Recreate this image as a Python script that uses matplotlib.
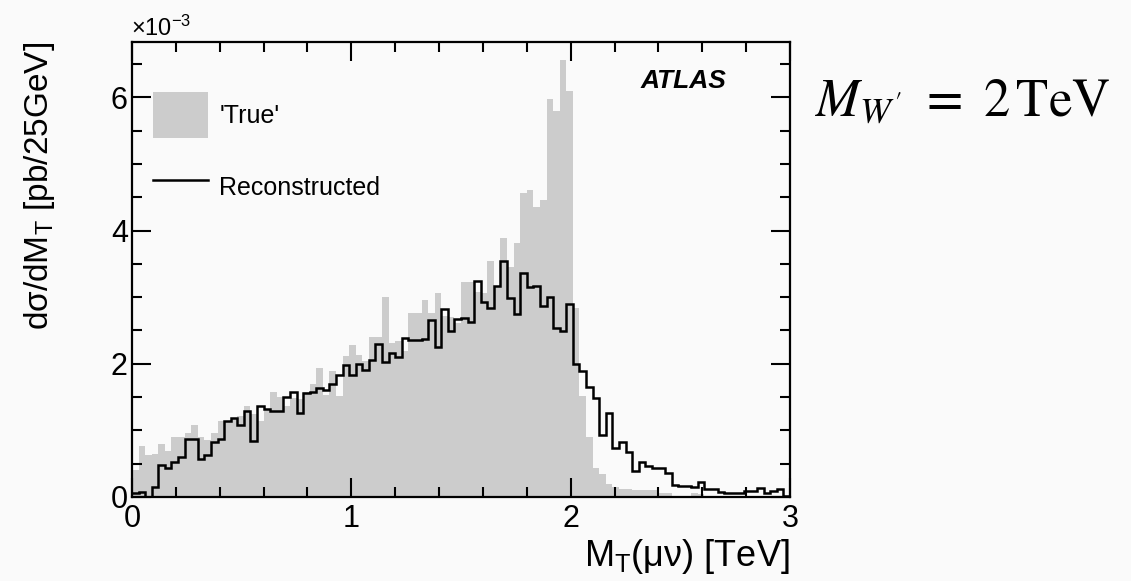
import numpy as np
import matplotlib
matplotlib.use("Agg")
import matplotlib.pyplot as plt
from matplotlib.patches import Patch
from matplotlib.lines import Line2D
from matplotlib.ticker import MultipleLocator

# Bin edges (TeV): 100 bins from 0 to 3
bin_lo = 0.0
bin_hi = 3.0
n_bins = 100

true_vals = [
    0.41, 0.77, 0.63, 0.645, 0.80, 0.69, 0.90, 0.90, 0.965, 1.075,
    0.90, 0.855, 0.965, 1.14, 1.14, 1.19, 1.21, 1.365, 1.245, 1.14,
    1.30, 1.57, 1.50, 1.37, 1.48, 1.465, 1.58, 1.695, 1.93, 1.53,
    1.895, 1.515, 2.115, 2.275, 2.13, 2.045, 2.405, 2.405, 3.0, 2.305,
    2.34, 2.19, 2.755, 2.755, 2.955, 2.765, 3.055, 2.715, 2.705, 2.605,
    3.22, 3.22, 3.07, 3.055, 3.545, 3.155, 3.89, 3.455, 3.82, 4.565,
    4.605, 4.355, 4.465, 5.98, 5.795, 6.565, 6.09, 2.84, 1.515, 0.895,
    0.44, 0.345, 0.195, 0.155, 0.12, 0.115, 0.105, 0.105, 0.105, 0.105,
    0.065, 0.065, 0.02, 0.02, 0.015, 0.055, 0.05, 0.01, 0.01, 0.008,
    0.008, 0.006, 0.006, 0.005, 0.005, 0.004, 0.004, 0.003, 0.003, 0.002,
]

reco_vals = [
    0.065, 0.08, 0.0, 0.155, 0.48, 0.43, 0.53, 0.60, 0.865, 0.865,
    0.57, 0.63, 0.82, 0.865, 1.14, 1.19, 1.08, 1.29, 0.84, 1.37,
    1.32, 1.29, 1.29, 1.50, 1.57, 1.255, 1.555, 1.58, 1.63, 1.60,
    1.70, 1.83, 1.98, 1.83, 2.00, 1.90, 2.05, 2.30, 2.03, 2.155,
    2.10, 2.38, 2.355, 2.355, 2.37, 2.655, 2.245, 2.82, 2.495, 2.67,
    2.68, 2.63, 3.245, 2.93, 2.83, 3.165, 3.54, 2.99, 2.74, 3.355,
    3.155, 3.17, 2.87, 3.005, 2.53, 2.49, 2.895, 2.0, 1.89, 1.655,
    1.49, 0.93, 1.255, 0.73, 0.82, 0.67, 0.39, 0.53, 0.465, 0.44,
    0.44, 0.355, 0.18, 0.17, 0.17, 0.155, 0.23, 0.12, 0.12, 0.08,
    0.055, 0.055, 0.055, 0.09, 0.09, 0.13, 0.055, 0.095, 0.115, 0.015,
]

x_ticks = [0, 1, 2, 3]
x_tick_labels = ["0", "1", "2", "3"]
y_ticks = [0, 2, 4, 6]
y_tick_labels = ["0", "2", "4", "6"]

edges = np.linspace(bin_lo, bin_hi, n_bins + 1)

plt.rcParams['font.family'] = ['Liberation Sans', 'DejaVu Sans']
plt.rcParams['mathtext.fontset'] = 'custom'
plt.rcParams['mathtext.rm'] = 'Liberation Sans'
plt.rcParams['mathtext.it'] = 'Liberation Sans:italic'

bg = '#fafafa'
fig = plt.figure(figsize=(11.31, 5.81), dpi=100, facecolor=bg)
ax = fig.add_axes([132/1131, 1-497/581, (790-132)/1131, (497-42)/581])
ax.set_facecolor(bg)

ax.stairs(true_vals, edges, fill=True, color='#cccccc', linewidth=0)
ax.stairs(reco_vals, edges, color='black', linewidth=1.8, baseline=None)

ax.set_xlim(0, 3)
ax.set_ylim(0, 6.83)

ax.set_xticks(x_ticks)
ax.set_xticklabels(x_tick_labels)
ax.set_yticks(y_ticks)
ax.set_yticklabels(y_tick_labels)
ax.xaxis.set_minor_locator(MultipleLocator(0.2))
ax.yaxis.set_minor_locator(MultipleLocator(0.5))
ax.tick_params(which='both', direction='in', top=True, right=True, width=1.5, labelsize=22)
ax.tick_params(which='major', length=14)
ax.tick_params(which='minor', length=7)
ax.tick_params(axis='x', pad=5)
ax.tick_params(axis='y', pad=3)
for s in ax.spines.values():
    s.set_linewidth(1.6)

fig.text(790/1131, 1-556/581, 'M$_\\mathrm{T}$(μν) [TeV]', ha='right', va='center', fontsize=26)
fig.text(40/1131, 1-186/581, 'dσ/dM$_\\mathrm{T}$ [pb/25GeV]', ha='center', va='center',
         rotation=90, fontsize=24)
fig.text(131/1131, 1-28/581, r'$\times$10$^{-3}$', ha='left', va='center', fontsize=17)

ax.text(0.838, 0.915, 'ATLAS', transform=ax.transAxes, ha='center', va='center',
        fontsize=19, fontweight='bold', fontstyle='italic')

handles = [Patch(facecolor='#cccccc', edgecolor='none'),
           Line2D([0], [0], color='black', linewidth=1.8)]
leg = fig.legend(handles, ["'True'", 'Reconstructed'], loc='upper left',
                 bbox_to_anchor=(153/1131, 1-92/581), bbox_transform=fig.transFigure,
                 frameon=False, fontsize=18, borderpad=0, borderaxespad=0,
                 handlelength=2.2, handleheight=2.45, labelspacing=1.05, handletextpad=0.45)

fig.text(815/1131, 1-103/581, r"$M_{W'}\ =\ 2\,\mathrm{TeV}$", ha='left', va='center',
         fontsize=38, math_fontfamily='stix')

fig.savefig('out.png', dpi=100, facecolor=bg)
